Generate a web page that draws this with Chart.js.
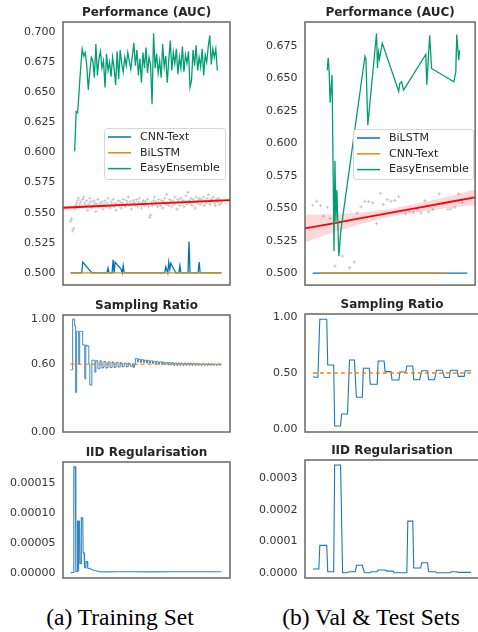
<!DOCTYPE html>
<html>
<head>
<meta charset="utf-8">
<script src="https://cdn.jsdelivr.net/npm/chart.js@4.4.1/dist/chart.umd.min.js"></script>
<style>
  html, body { margin: 0; padding: 0; background: #fff; overflow: hidden; }
  body { width: 478px; height: 632px; position: relative; }
  canvas { position: absolute; }
  .caption {
    position: absolute; top: 606px; width: 240px; text-align: center;
    font-family: "Liberation Serif", "Times New Roman", serif;
    font-size: 23.5px; line-height: 23.5px; color: #000;
  }
</style>
</head>
<body>
<canvas id="trainPerf" width="240" height="290" style="left:0;top:0"></canvas>
<canvas id="trainRatio" width="240" height="150" style="left:0;top:290px"></canvas>
<canvas id="trainIid" width="240" height="145" style="left:0;top:440px"></canvas>
<canvas id="valPerf" width="240" height="290" style="left:240px;top:0"></canvas>
<canvas id="valRatio" width="240" height="150" style="left:240px;top:290px"></canvas>
<canvas id="valIid" width="240" height="145" style="left:240px;top:440px"></canvas>
<div class="caption" style="left:0">(a) Training Set</div>
<div class="caption" style="left:251px">(b) Val &amp; Test Sets</div>

<script>
// ---------------- (a) Training set ----------------
const trainPerfTicks = [0.5, 0.525, 0.55, 0.575, 0.6, 0.625, 0.65, 0.675, 0.7];
const trainRatioTicks = [0, 0.6, 1.0];
const trainIidTicks = [0, 0.00005, 0.0001, 0.00015];

// CNN-Text (sparse points)
const trainCnnX = [0, 11, 12, 21, 36, 37, 38, 41, 42, 43, 44, 50, 51, 52, 53, 93, 94, 96, 97, 98, 99, 104, 107, 108, 109, 116, 117, 118, 126, 127, 128, 149];
const trainCnnY = [0.5, 0.5, 0.509, 0.5, 0.5, 0.504, 0.5, 0.5, 0.511, 0.5, 0.509, 0.503, 0.5, 0.506, 0.5, 0.5, 0.505, 0.5, 0.509, 0.503, 0.508, 0.5, 0.5, 0.506, 0.5, 0.5, 0.526, 0.5, 0.5, 0.509, 0.5, 0.5];
const trainBilstmX = [0, 149];
const trainBilstmY = [0.5, 0.5];

// EasyEnsemble, one value every 1.5 steps from step 4
const trainEasyY = [
  0.601, 0.634, 0.633, 0.652, 0.671, 0.686, 0.680, 0.683, 0.672, 0.652,
  0.667, 0.679, 0.676, 0.662, 0.690, 0.664, 0.678, 0.684, 0.670, 0.676,
  0.654, 0.682, 0.668, 0.675, 0.663, 0.679, 0.670, 0.656, 0.684, 0.661,
  0.685, 0.674, 0.667, 0.679, 0.672, 0.683, 0.676, 0.669, 0.680, 0.691,
  0.672, 0.685, 0.664, 0.678, 0.658, 0.683, 0.670, 0.687, 0.666, 0.679,
  0.673, 0.640, 0.699, 0.670, 0.682, 0.666, 0.676, 0.662, 0.690, 0.671,
  0.680, 0.658, 0.677, 0.693, 0.668, 0.683, 0.674, 0.686, 0.665, 0.679,
  0.670, 0.688, 0.667, 0.681, 0.674, 0.684, 0.654, 0.660, 0.685, 0.672,
  0.689, 0.668, 0.679, 0.671, 0.686, 0.664, 0.681, 0.675, 0.688, 0.697,
  0.673, 0.686, 0.679, 0.686, 0.668
];

// grey scatter, one per step
const trainScatterY = [
  0.543, 0.545, 0.535, 0.537, 0.553, 0.556, 0.558, 0.560, 0.562, 0.557,
  0.559, 0.555, 0.561, 0.563, 0.558, 0.556, 0.560, 0.552, 0.557, 0.562,
  0.559, 0.554, 0.556, 0.560, 0.558, 0.551, 0.557, 0.561, 0.555, 0.558,
  0.556, 0.559, 0.553, 0.557, 0.560, 0.555, 0.558, 0.562, 0.556, 0.554,
  0.559, 0.557, 0.561, 0.555, 0.558, 0.552, 0.557, 0.560, 0.556, 0.559,
  0.554, 0.558, 0.561, 0.557, 0.555, 0.560, 0.558, 0.563, 0.556, 0.559,
  0.553, 0.557, 0.560, 0.558, 0.556, 0.561, 0.555, 0.559, 0.562, 0.557,
  0.554, 0.558, 0.560, 0.556, 0.559, 0.557, 0.561, 0.555, 0.546, 0.548,
  0.558, 0.556, 0.560, 0.563, 0.557, 0.559, 0.555, 0.561, 0.558, 0.556,
  0.560, 0.554, 0.559, 0.562, 0.557, 0.565, 0.558, 0.556, 0.561, 0.559,
  0.555, 0.560, 0.557, 0.563, 0.558, 0.553, 0.561, 0.559, 0.556, 0.562,
  0.558, 0.560, 0.555, 0.559, 0.564, 0.557, 0.567, 0.560, 0.558, 0.562,
  0.556, 0.561, 0.559, 0.554, 0.563, 0.558, 0.560, 0.562, 0.557, 0.561,
  0.559, 0.563, 0.556, 0.560, 0.558, 0.562, 0.565, 0.559, 0.557, 0.561,
  0.560, 0.563, 0.558, 0.556, 0.561, 0.559, 0.562, 0.557, 0.560, 0.558
];

// regression line + band
const trainFitX = [-7.5, 75, 157.5];
const trainFitY = [0.5541, 0.5573, 0.5605];
const trainFitLo = [0.5526, 0.5568, 0.5593];
const trainFitHi = [0.5556, 0.5578, 0.5617];

// sampling ratio, one per step
const trainRatioY = [
  0.55, 0.55, 1.0, 1.0, 0.94, 0.35, 0.89, 0.89, 0.60, 0.89,
  0.89, 0.89, 0.77, 0.77, 0.47, 0.77, 0.76, 0.76, 0.60, 0.415,
  0.415, 0.635, 0.635, 0.635, 0.53,
  0.63, 0.63, 0.56, 0.56, 0.63, 0.62, 0.565, 0.57, 0.625, 0.62,
  0.565, 0.57, 0.62, 0.62, 0.57, 0.57, 0.62, 0.615, 0.57, 0.575,
  0.615, 0.615, 0.575, 0.575, 0.615, 0.61, 0.575, 0.58, 0.61, 0.61,
  0.575, 0.58, 0.61, 0.605, 0.58, 0.58, 0.605, 0.57, 0.59,
  0.65, 0.65, 0.62, 0.645, 0.645, 0.615, 0.64, 0.64, 0.615, 0.635,
  0.635, 0.61, 0.635, 0.63, 0.61, 0.63, 0.63, 0.605, 0.625, 0.625,
  0.605, 0.625, 0.62, 0.60, 0.62, 0.62, 0.60, 0.62, 0.615, 0.595,
  0.615, 0.615, 0.595, 0.615, 0.61, 0.595, 0.615, 0.61, 0.59, 0.61,
  0.61, 0.59, 0.61, 0.61, 0.59, 0.61, 0.605, 0.59, 0.61, 0.605,
  0.59, 0.605, 0.605, 0.59, 0.61, 0.605, 0.59, 0.605, 0.605, 0.59,
  0.605, 0.60, 0.59, 0.605, 0.60, 0.59, 0.605, 0.60, 0.59, 0.60,
  0.60, 0.59, 0.605, 0.60, 0.59, 0.60, 0.60, 0.59, 0.60, 0.60,
  0.59, 0.60, 0.60, 0.59, 0.60, 0.60
];
const trainRatioTarget = 0.6;

const trainIidX = [0, 2.7, 3.2, 4.7, 5.2, 6.5, 6.8, 7.5, 7.8, 8.1, 8.8, 9.3, 10.3, 10.6, 12, 12.4, 13.3, 13.8, 14.8, 15.2, 16.6, 17, 19, 22, 29, 36, 45, 60, 80, 100, 120, 149];
const trainIidY = [0.5e-6, 1e-6, 177e-6, 177e-6, 2e-6, 2e-6, 86.7e-6, 86.7e-6, 3e-6, 86.7e-6, 86.7e-6, 16e-6, 16e-6, 92.2e-6, 92.2e-6, 33.9e-6, 33.9e-6, 8.9e-6, 8.9e-6, 19e-6, 19e-6, 7.8e-6, 7.5e-6, 5e-6, 2.2e-6, 1.9e-6, 2.2e-6, 2e-6, 1.9e-6, 2e-6, 2.1e-6, 2e-6];

// ---------------- (b) Val & test sets ----------------
const valPerfTicks = [0.5, 0.525, 0.55, 0.575, 0.6, 0.625, 0.65, 0.675];
const valRatioTicks = [0, 0.5, 1.0];
const valIidTicks = [0, 0.0001, 0.0002, 0.0003];

const valBilstmX = [0, 160];
const valBilstmY = [0.5, 0.5];
const valCnnX = [7, 138];
const valCnnY = [0.5, 0.5];

const valEasyX = [15, 16, 17, 18, 20, 22, 23, 24, 25, 27, 29, 54, 55, 57, 66, 67, 68, 69, 72, 89, 90, 92, 94, 117, 118, 121, 123, 146, 148, 149, 151, 152];
const valEasyY = [0.6563, 0.6658, 0.655, 0.6313, 0.6525, 0.517, 0.5866, 0.540, 0.564, 0.513, 0.532, 0.667, 0.665, 0.614, 0.6845, 0.658, 0.670, 0.665, 0.677, 0.640, 0.646, 0.6474, 0.641, 0.6684, 0.645, 0.6832, 0.6576, 0.6474, 0.655, 0.6837, 0.664, 0.6717];

const valScatterX = [0, 4, 8, 11, 15, 18, 23, 28, 31, 38, 43, 46, 50, 54, 58, 62, 66, 70, 73, 77, 81, 85, 89, 96, 100, 104, 108, 112, 116, 120, 124, 131, 135, 140, 143, 147, 151, 155];
const valScatterY = [0.5523, 0.5554, 0.5520, 0.5439, 0.5508, 0.5421, 0.5055, 0.5393, 0.5132, 0.5042,
  0.5086, 0.5464, 0.5510, 0.5554, 0.5551, 0.5541, 0.5382, 0.5615, 0.5528, 0.5566,
  0.5554, 0.5561, 0.5589, 0.5459, 0.5477, 0.5472, 0.5490, 0.5464, 0.5559, 0.5472,
  0.5490, 0.5610, 0.5533, 0.5490, 0.5495, 0.5508, 0.5610, 0.5546];

const valFitX = [-8, 20, 50, 80, 110, 140, 168];
const valFitY = [0.5344, 0.5382, 0.5423, 0.5464, 0.5505, 0.5546, 0.5584];
const valFitLo = [0.5237, 0.5312, 0.5378, 0.5434, 0.5470, 0.5501, 0.5524];
const valFitHi = [0.5451, 0.5452, 0.5468, 0.5494, 0.5540, 0.5591, 0.5644];

const valRatioX = [0, 5, 7, 14, 15, 21, 22, 28, 29, 35, 37, 42, 44, 50, 51, 57, 58, 65, 66, 72, 73, 79, 80, 87, 88, 94, 95, 101, 102, 108, 110, 116, 117, 123, 125, 131, 133, 138, 139, 146, 147, 153, 154, 160];
const valRatioY = [0.467, 0.46, 0.98, 0.98, 0.571, 0.571, 0.027, 0.027, 0.134, 0.134, 0.616, 0.616, 0.283, 0.283, 0.542, 0.542, 0.40, 0.40, 0.607, 0.607, 0.512, 0.512, 0.4375, 0.4375, 0.509, 0.509, 0.5625, 0.5625, 0.44, 0.44, 0.52, 0.52, 0.44, 0.44, 0.525, 0.525, 0.46, 0.46, 0.525, 0.525, 0.47, 0.47, 0.52, 0.52];
const valRatioTarget = 0.5;

const valIidX = [0, 6, 7, 14, 15, 21, 22, 28, 30, 34, 37, 43, 44, 50, 52, 58, 59, 65, 66, 73, 75, 81, 82, 95, 96, 101, 102, 109, 110, 116, 117, 124, 125, 139, 140, 145, 147, 160];
const valIidY = [12.6e-6, 12.6e-6, 87.3e-6, 87.3e-6, 4e-6, 4e-6, 341e-6, 341e-6, 1e-6, 1e-6, 4e-6, 4e-6, 24.3e-6, 24.3e-6, 1e-6, 1e-6, 4e-6, 4e-6, 9.5e-6, 9.5e-6, 6e-6, 6e-6, 1e-6, 1e-6, 164e-6, 164e-6, 15.8e-6, 15.8e-6, 32.5e-6, 32.5e-6, 4e-6, 4e-6, 1e-6, 1e-6, 4e-6, 4e-6, 2e-6, 2e-6];

// ---------------- colours ----------------
const C_BLUE = '#0173b2';
const C_ORANGE = '#de8f05';
const C_GREEN = '#029e73';
const C_LINE = '#1f77b4';
const C_TARGET = '#ff7f0e';

// ---------------- helpers ----------------
const pts = (xs, ys) => xs.map((x, i) => ({ x: x, y: ys[i] }));
const idx = (ys, start, stride) => ys.map((y, i) => ({ x: start + i * stride, y: y }));

Chart.defaults.font.family = 'DejaVu Sans';
Chart.defaults.animation = false;

// frame around the axes
const framePlugin = {
  id: 'frame',
  afterDatasetsDraw(chart) {
    const { ctx, chartArea: a } = chart;
    ctx.save();
    ctx.strokeStyle = '#666';
    ctx.lineWidth = 1.5;
    ctx.strokeRect(a.left, a.top, a.right - a.left, a.bottom - a.top);
    ctx.restore();
  }
};

// bold title centred over the plot area
const panelTitle = {
  id: 'panelTitle',
  afterDraw(chart, args, opts) {
    if (!opts.text) return;
    const { ctx, chartArea: a } = chart;
    ctx.save();
    ctx.font = 'bold 12px "DejaVu Sans"';
    ctx.fillStyle = '#262626';
    ctx.textAlign = 'center';
    ctx.textBaseline = 'middle';
    ctx.fillText(opts.text, (a.left + a.right) / 2, a.top - 9);
    ctx.restore();
  }
};

// matplotlib-like legend box inside the axes
const boxLegend = {
  id: 'boxLegend',
  afterDatasetsDraw(chart, args, opts) {
    if (opts.left === undefined) return;
    const items = chart.data.datasets.filter(d => d.inLegend);
    const { ctx, chartArea: a } = chart;
    const x = a.left + opts.left;
    const y = a.top + opts.top;
    ctx.save();
    ctx.fillStyle = 'rgba(255,255,255,0.8)';
    ctx.strokeStyle = '#d6d6d6';
    ctx.lineWidth = 1;
    ctx.beginPath();
    ctx.roundRect(x + 0.5, y + 0.5, opts.width, opts.height, 3);
    ctx.fill();
    ctx.stroke();
    ctx.font = '11px "DejaVu Sans"';
    ctx.textBaseline = 'middle';
    items.forEach((d, i) => {
      const cy = y + 9 + i * 15.8;
      ctx.strokeStyle = d.borderColor;
      ctx.lineWidth = 1.5;
      ctx.beginPath();
      ctx.moveTo(x + 4, cy);
      ctx.lineTo(x + 27, cy);
      ctx.stroke();
      ctx.fillStyle = '#262626';
      ctx.fillText(d.label, x + 36, cy);
    });
    ctx.restore();
  }
};

function yAxis(min, max, ticks, digits, width) {
  return {
    min: min,
    max: max,
    grid: { display: false, drawTicks: false },
    border: { display: false },
    afterBuildTicks: s => { s.ticks = ticks.map(v => ({ value: v })); },
    afterFit: s => { s.width = width; s.paddingTop = 0; s.paddingBottom = 0; },
    ticks: {
      autoSkip: false,
      padding: 7.5,
      color: '#333',
      font: { size: 11 },
      callback: v => v.toFixed(digits)
    }
  };
}

function line(label, data, color, extra) {
  return Object.assign({
    type: 'line', label: label, data: data, borderColor: color,
    borderWidth: 1.3, pointRadius: 0, tension: 0, fill: false
  }, extra || {});
}

function makePanel(id, datasets, opts) {
  return new Chart(document.getElementById(id), {
    type: 'line',
    data: { datasets: datasets },
    options: {
      responsive: false,
      layout: { padding: opts.padding },
      scales: {
        x: { type: 'linear', min: opts.xMin, max: opts.xMax, display: false },
        y: yAxis(opts.yMin, opts.yMax, opts.ticks, opts.digits, opts.axisWidth)
      },
      plugins: {
        legend: { display: false },
        tooltip: { enabled: false },
        panelTitle: { text: opts.title },
        boxLegend: opts.legend || {}
      }
    },
    plugins: [framePlugin, panelTitle, boxLegend]
  });
}

function perfDatasets(series, scatter, fitX, fitY, fitLo, fitHi) {
  const list = series.map((s, i) => line(s.label, s.data, s.color, { inLegend: true, order: 3 - i }));
  list.push({
    type: 'scatter', label: 'samples', data: scatter, pointStyle: 'cross',
    pointRadius: 1.8, borderWidth: 0.9, borderColor: 'rgba(140,140,140,0.45)', order: 7
  });
  list.push(line('ci-lo', pts(fitX, fitLo), 'rgba(0,0,0,0)', { borderWidth: 0, order: 6 }));
  list.push(line('ci-hi', pts(fitX, fitHi), 'rgba(0,0,0,0)', {
    borderWidth: 0, fill: '-1', backgroundColor: 'rgba(255,0,0,0.15)', order: 5
  }));
  list.push(line('fit', pts(fitX, fitY), '#ff0000', { borderWidth: 1.8, order: 4 }));
  return list;
}

// ---------------- (a) panels ----------------
makePanel('trainPerf', perfDatasets([
  { label: 'CNN-Text', data: pts(trainCnnX, trainCnnY), color: C_BLUE },
  { label: 'BiLSTM', data: pts(trainBilstmX, trainBilstmY), color: C_ORANGE },
  { label: 'EasyEnsemble', data: idx(trainEasyY, 4, 1.5), color: C_GREEN }
], idx(trainScatterY, 0, 1), trainFitX, trainFitY, trainFitLo, trainFitHi), {
  title: 'Performance (AUC)', padding: { top: 22, right: 10, bottom: 5, left: 0 },
  xMin: -7.5, xMax: 157.5, yMin: 0.490, yMax: 0.7083, ticks: trainPerfTicks, digits: 3, axisWidth: 63,
  legend: { left: 41, top: 106, width: 121, height: 51 }
});

makePanel('trainRatio', [
  line('target', pts([0, 149], [trainRatioTarget, trainRatioTarget]), C_TARGET, { borderDash: [4, 3], order: 1 }),
  line('ratio', idx(trainRatioY, 0, 1), 'rgba(31,119,180,0.85)', { stepped: true, borderWidth: 1, order: 2 })
], {
  title: 'Sampling Ratio', padding: { top: 25, right: 10, bottom: 8, left: 0 },
  xMin: -7.5, xMax: 157.5, yMin: 0, yMax: 1.035, ticks: trainRatioTicks, digits: 2, axisWidth: 63
});

makePanel('trainIid', [
  line('iid', pts(trainIidX, trainIidY), 'rgba(31,119,180,0.9)', { borderWidth: 1.1 })
], {
  title: 'IID Regularisation', padding: { top: 22, right: 10, bottom: 7, left: 0 },
  xMin: -7.5, xMax: 157.5, yMin: -0.0000083, yMax: 0.000185, ticks: trainIidTicks, digits: 5, axisWidth: 63
});

// ---------------- (b) panels ----------------
makePanel('valPerf', perfDatasets([
  { label: 'BiLSTM', data: pts(valBilstmX, valBilstmY), color: C_BLUE },
  { label: 'CNN-Text', data: pts(valCnnX, valCnnY), color: C_ORANGE },
  { label: 'EasyEnsemble', data: pts(valEasyX, valEasyY), color: C_GREEN }
], pts(valScatterX, valScatterY), valFitX, valFitY, valFitLo, valFitHi), {
  title: 'Performance (AUC)', padding: { top: 22, right: 1, bottom: 4, left: 0 },
  xMin: -8, xMax: 168, yMin: 0.4908, yMax: 0.6934, ticks: valPerfTicks, digits: 3, axisWidth: 65,
  legend: { left: 48, top: 107, width: 120, height: 50 }
});

makePanel('valRatio', [
  line('target', pts([0, 160], [valRatioTarget, valRatioTarget]), C_TARGET, { borderDash: [4, 3], order: 1 }),
  line('ratio', pts(valRatioX, valRatioY), C_LINE, { borderWidth: 1.1, order: 2 })
], {
  title: 'Sampling Ratio', padding: { top: 24, right: 1, bottom: 8, left: 0 },
  xMin: -8, xMax: 168, yMin: -0.027, yMax: 1.027, ticks: valRatioTicks, digits: 2, axisWidth: 65
});

makePanel('valIid', [
  line('iid', pts(valIidX, valIidY), C_LINE, { borderWidth: 1.1 })
], {
  title: 'IID Regularisation', padding: { top: 20, right: 1, bottom: 7, left: 0 },
  xMin: -8, xMax: 168, yMin: -0.0000158, yMax: 0.000357, ticks: valIidTicks, digits: 4, axisWidth: 65
});
</script>
</body>
</html>
